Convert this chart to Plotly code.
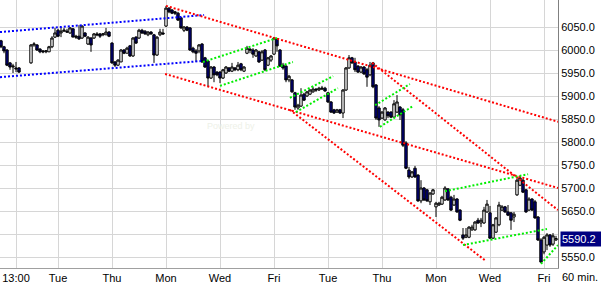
import plotly.graph_objects as go

# ---------------- data (60-min bars) ----------------
bar_open = [6020, 6007, 6000, 5972, 5963, 5961, 5961, None, None, None,
 5972, 6011, 6011, 6002, 5998, 5996, 5996, 6007, 6028,
 6043, 6037, 6041, 6041, 6037, 6046, 6030, 6030, 6026,
 6037, 6013, 6026, 6026, 6035, 6035, 6033, 6033, 6039,
 6015, 5974, 5967, 5974, 6000, 5993, 6009, 5987, 6028,
 6026, 6043, 6041, 6033, 6039, 6033, 5989, 6033, 6037,
 6052, 6091, 6087, 6083, 6080, 6070, 6043, 6050, 6048,
 6004, 5998, 5998, 6013, 5983, 5976, 5939, 5963, 5952,
 5952, 5939, 5950, 5961, 5954, 5961, 5957, 5970, 5954,
 5993, 6002, 6000, 5987, 5996, 5978, 6000, 5967, 5978,
 5991, 6024, 6000, 5967, 5965, 5935, 5935, 5907, 5874,
 5878, 5904, 5900, 5904, 5909, 5915, 5913, 5915, 5917,
 5907, 5887, 5870, 5865, 5870, 5863, 5913, 5961, 5983,
 5974, 5965, 5952, 5963, 5957, 5946, 5972, 5924, 5874,
 5852, 5848, 5865, 5865, 5854, 5865, 5876, 5870, 5798,
 5739, 5724, 5743, 5728, 5672, 5700, 5696, 5670, 5687,
 5659, 5663, 5665, 5674, 5698, 5680, 5663, 5676, 5652,
 5598, 5593, 5593, 5609, 5609, 5630, 5624, 5624, 5648,
 5646, 5591, 5604, 5620, 5652, 5659, 5648, 5646, 5637,
 5685, 5706, 5717, 5696, 5652, 5676, 5670, 5637, 5587,
 5561, 5576, 5598, 5578, 5587]

bar_high = [6022, 6009, 6002, 5974, 5970, 5974, 5963, None, None, None,
 6013, 6017, 6013, 6004, 6000, 6000, 6009, 6030, 6048,
 6046, 6050, 6048, 6046, 6050, 6048, 6033, 6054, 6054,
 6039, 6030, 6028, 6037, 6039, 6037, 6037, 6048, 6041,
 6017, 5976, 5980, 6002, 6002, 6007, 6011, 6028, 6030,
 6046, 6046, 6043, 6041, 6041, 6035, 6030, 6046, 6046,
 6096, 6093, 6089, 6085, 6083, 6072, 6052, 6052, 6050,
 6007, 6002, 6013, 6015, 5985, 5978, 5965, 5965, 5954,
 5954, 5959, 5965, 5963, 5972, 5963, 5974, 5972, 5965,
 6009, 6004, 6004, 6002, 5998, 6000, 6002, 5985, 5989,
 6028, 6026, 6002, 5972, 5967, 5946, 5937, 5909, 5883,
 5917, 5907, 5911, 5915, 5920, 5917, 5920, 5922, 5920,
 5909, 5889, 5872, 5872, 5872, 5915, 5963, 5989, 5985,
 5983, 5967, 5965, 5965, 5961, 5974, 5974, 5926, 5878,
 5867, 5876, 5867, 5867, 5891, 5902, 5878, 5874, 5802,
 5746, 5737, 5748, 5730, 5717, 5702, 5698, 5691, 5698,
 5670, 5670, 5683, 5704, 5700, 5683, 5685, 5678, 5654,
 5613, 5613, 5617, 5620, 5628, 5635, 5635, 5659, 5674,
 5661, 5622, 5637, 5670, 5663, 5661, 5663, 5648, 5648,
 5720, 5726, 5720, 5698, 5680, 5678, 5674, 5639, 5591,
 5596, 5602, 5600, 5602, 5596]

bar_low = [6004, 5993, 5965, 5957, 5950, 5952, 5950, None, None, None,
 5970, 6007, 5998, 5993, 5993, 5993, 5996, 6004, 6026,
 6028, 6028, 6039, 6037, 6035, 6028, 6024, 6022, 6024,
 6028, 6011, 5996, 6024, 6030, 6026, 6030, 6033, 6028,
 5970, 5963, 5965, 5974, 5991, 5993, 5985, 5985, 6013,
 6024, 6035, 6033, 6030, 6033, 5972, 5987, 6030, 6033,
 6050, 6080, 6078, 6076, 6063, 6046, 6039, 6041, 5998,
 5993, 5974, 5993, 5972, 5961, 5920, 5937, 5930, 5943,
 5928, 5937, 5948, 5952, 5952, 5954, 5954, 5954, 5952,
 5991, 5993, 5983, 5985, 5972, 5976, 5954, 5965, 5974,
 5989, 5996, 5963, 5957, 5930, 5930, 5907, 5870, 5870,
 5876, 5889, 5898, 5902, 5907, 5909, 5911, 5913, 5909,
 5885, 5863, 5861, 5863, 5861, 5852, 5911, 5959, 5970,
 5952, 5950, 5950, 5946, 5920, 5943, 5917, 5848, 5833,
 5850, 5846, 5852, 5852, 5852, 5863, 5848, 5789, 5741,
 5720, 5722, 5722, 5670, 5667, 5672, 5670, 5663, 5685,
 5637, 5661, 5663, 5672, 5672, 5650, 5661, 5646, 5628,
 5587, 5591, 5591, 5607, 5607, 5622, 5615, 5622, 5646,
 5589, 5589, 5602, 5617, 5650, 5646, 5639, 5609, 5626,
 5683, 5704, 5689, 5646, 5650, 5650, 5633, 5585, 5537,
 5556, 5565, 5572, 5574, 5585]

bar_close = [6007, 5998, 5967, 5963, 5965, 5959, 5952, None, None, None,
 6011, 6013, 6000, 5996, 5996, 5998, 6007, 6026, 6037,
 6030, 6041, 6043, 6039, 6048, 6028, 6028, 6024, 6052,
 6030, 6028, 6011, 6035, 6033, 6030, 6035, 6039, 6030,
 5972, 5967, 5978, 6000, 5993, 6004, 5987, 6026, 6015,
 6043, 6037, 6035, 6039, 6035, 5989, 6028, 6039, 6035,
 6091, 6083, 6080, 6080, 6065, 6048, 6050, 6043, 6000,
 5996, 5993, 6011, 5974, 5963, 5939, 5963, 5946, 5946,
 5939, 5957, 5963, 5954, 5963, 5957, 5967, 5957, 5963,
 6004, 6000, 5991, 6000, 5974, 5996, 5957, 5983, 5987,
 6026, 6009, 5965, 5961, 5935, 5943, 5909, 5876, 5880,
 5902, 5891, 5909, 5913, 5915, 5913, 5917, 5917, 5911,
 5887, 5865, 5863, 5870, 5863, 5913, 5961, 5983, 5972,
 5957, 5952, 5963, 5948, 5941, 5967, 5920, 5852, 5848,
 5865, 5874, 5857, 5854, 5883, 5887, 5859, 5793, 5743,
 5724, 5735, 5724, 5672, 5700, 5674, 5672, 5689, 5696,
 5667, 5667, 5680, 5700, 5674, 5652, 5676, 5648, 5630,
 5591, 5598, 5615, 5615, 5626, 5624, 5630, 5652, 5665,
 5591, 5620, 5635, 5663, 5659, 5648, 5641, 5630, 5643,
 5717, 5722, 5691, 5648, 5676, 5652, 5635, 5587, 5539,
 5593, 5598, 5576, 5596, 5590.2]

bar_index = list(range(len(bar_close)))

# x-axis labels (bar index of the labelled bar)
tick_idx = [5, 19, 37, 55, 73, 91, 109, 127, 145, 163, 181]
tick_labels = ["13:00", "Tue", "Thu", "Mon", "Wed", "Fri", "Tue", "Thu", "Mon", "Wed", "Fri"]

price_ticks = [5550, 5600, 5650, 5700, 5750, 5800, 5850, 5900, 5950, 6000, 6050]
price_labels = ["5550.0", "", "5650.0", "5700.0", "5750.0", "5800.0", "5850.0",
                "5900.0", "5950.0", "6000.0", "6050.0"]
last_price = 5590.2

# trend lines: [start bar, start price, end bar, end price]
blue_lines = [[-0.33, 6039, 67.7, 6076],
              [-0.33, 5941, 66.7, 5976]]
red_lines = [[55.0, 6096, 185.67, 5844],
             [54.7, 5948, 185.67, 5700],
             [96.3, 5870, 161.3, 5543],
             [123.7, 5972, 185.67, 5652]]
green_lines = [[67.3, 5974, 92.0, 6026],
               [73.0, 5922, 97.3, 5974],
               [96.3, 5896, 110.7, 5943],
               [98.3, 5865, 112.3, 5917],
               [124.7, 5880, 136.3, 5926],
               [126.3, 5833, 137.3, 5878],
               [148.0, 5693, 175.7, 5730],
               [154.0, 5576, 182.0, 5611],
               [180.0, 5535, 185.67, 5576]]

FONT = "Liberation Sans, Arial, sans-serif"

fig = go.Figure()
fig.add_trace(go.Candlestick(
    x=bar_index, open=bar_open, high=bar_high, low=bar_low, close=bar_close,
    increasing=dict(fillcolor="white", line=dict(color="black", width=1)),
    decreasing=dict(fillcolor="#000080", line=dict(color="black", width=1)),
    whiskerwidth=0, hoverinfo="skip", showlegend=False,
))

for group, color in ((blue_lines, "#0000ff"), (red_lines, "#ff0000"), (green_lines, "#00ee00")):
    for x0, y0, x1, y1 in group:
        fig.add_trace(go.Scatter(
            x=[x0, x1], y=[y0, y1], mode="lines",
            line=dict(color=color, width=2, dash="2px,2px"),
            hoverinfo="skip", showlegend=False,
        ))

fig.add_annotation(
    xref="paper", yref="y", x=1, y=last_price, xanchor="left", yanchor="middle",
    xshift=2, text=str(last_price), showarrow=False, bgcolor="#000080",
    font=dict(family=FONT, size=11, color="white"), borderpad=1, width=39, align="left",
)
fig.add_annotation(
    xref="paper", yref="paper", x=1, y=0, xanchor="left", yanchor="top",
    xshift=2, yshift=-1, text="60 min.", showarrow=False,
    font=dict(family=FONT, size=11, color="black"),
)
fig.add_annotation(
    xref="x", yref="y", x=76.5, y=5835, text="Powered by", showarrow=False,
    font=dict(family=FONT, size=9, color="#eef1e8"),
)

fig.update_layout(
    width=601, height=283,
    margin=dict(l=0, r=43, t=0, b=15),
    paper_bgcolor="white", plot_bgcolor="white",
    showlegend=False, boxgap=0.2, boxgroupgap=0,
    xaxis=dict(
        range=[-1 / 3, 185 + 2 / 3], tickmode="array", tickvals=tick_idx, ticktext=tick_labels,
        showgrid=True, gridcolor="#d6d6d6", gridwidth=1, zeroline=False,
        showline=True, linecolor="#a0a0a0", linewidth=1, ticks="",
        tickfont=dict(family=FONT, size=11, color="black"),
        rangeslider=dict(visible=False),
    ),
    yaxis=dict(
        side="right", range=[5526.1, 6108.7], tickmode="array",
        tickvals=price_ticks, ticktext=price_labels,
        showgrid=True, gridcolor="#d6d6d6", gridwidth=1, zeroline=False,
        showline=True, linecolor="#808080", linewidth=1, ticks="",
        tickfont=dict(family=FONT, size=11, color="black"),
    ),
)

fig.write_html("out.html")
